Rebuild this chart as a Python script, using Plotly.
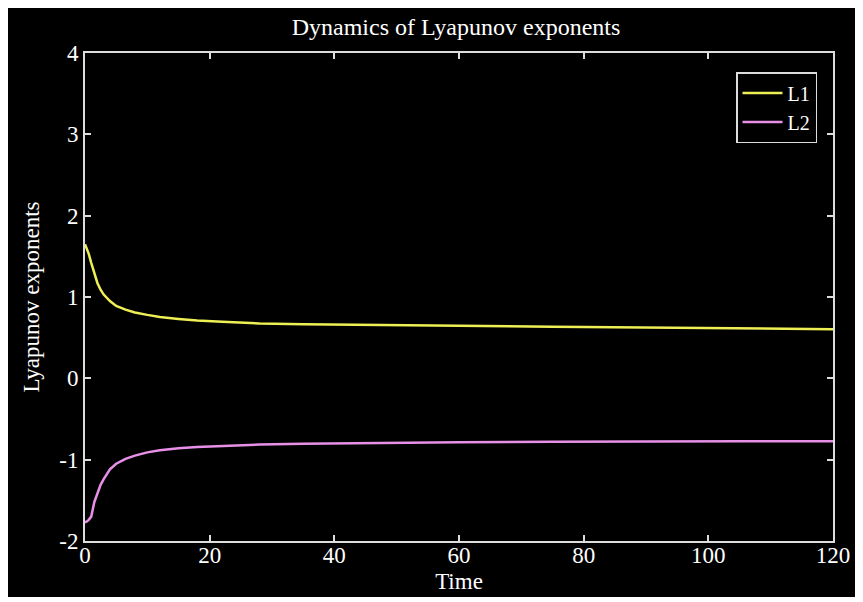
import plotly.graph_objects as go

time = [0, 0.3, 0.6, 1.0, 1.5, 2, 2.5, 3, 4, 5, 6.5, 8, 10, 12, 15, 18, 22, 28, 35, 45, 60, 75, 90, 105, 120]
L1 = [1.65, 1.60, 1.53, 1.42, 1.28, 1.17, 1.09, 1.03, 0.95, 0.89, 0.845, 0.81, 0.78, 0.755, 0.73,
      0.71, 0.695, 0.675, 0.665, 0.655, 0.645, 0.635, 0.625, 0.615, 0.605]
L2 = [-1.77, -1.76, -1.74, -1.70, -1.52, -1.40, -1.31, -1.24, -1.12, -1.05, -0.99, -0.95, -0.91,
      -0.885, -0.86, -0.845, -0.83, -0.815, -0.805, -0.795, -0.785, -0.78, -0.775, -0.775, -0.775]
x_ticks = [0, 20, 40, 60, 80, 100, 120]
x_labels = ["0", "20", "40", "60", "80", "100", "120"]
y_ticks = [-2, -1, 0, 1, 2, 3, 4]
y_labels = ["-2", "-1", "0", "1", "2", "3", "4"]

font = "Liberation Serif"
fig = go.Figure()
fig.add_trace(go.Scatter(x=time, y=L1, mode="lines", name="L1",
                         line=dict(color="#eeee55", width=2.5)))
fig.add_trace(go.Scatter(x=time, y=L2, mode="lines", name="L2",
                         line=dict(color="#e890e8", width=2.5)))

# page body has an 8px margin, which gives the thin white border
W, H = 850, 589
ml, mr, mt, mb = 77, 25, 45, 56
pw, ph = W - ml - mr, H - mt - mb

axis_common = dict(showgrid=False, zeroline=False, showline=True, mirror="ticks",
                   linecolor="#dddddd", linewidth=2, ticks="inside", ticklen=6,
                   tickcolor="#dddddd", tickwidth=1.5, automargin=False,
                   tickfont=dict(family=font, size=23, color="white"))

fig.update_layout(
    width=W, height=H,
    margin=dict(l=ml, r=mr, t=mt, b=mb),
    paper_bgcolor="black", plot_bgcolor="black",
    title=dict(text="Dynamics of Lyapunov exponents", x=448 / W, xanchor="center",
               y=1 - 19 / H, yanchor="middle", yref="container",
               font=dict(family=font, size=24, color="white")),
    xaxis=dict(range=[0, 120], tickvals=x_ticks, ticktext=x_labels, ticklabelstandoff=-8,
               title=dict(text="Time", font=dict(family=font, size=23, color="white"), standoff=6),
               **axis_common),
    yaxis=dict(range=[-2, 4], tickvals=y_ticks, ticktext=y_labels,
               title=dict(text="Lyapunov exponents", font=dict(family=font, size=23, color="white"),
                          standoff=13),
               **axis_common),
    legend=dict(x=(809 - ml) / pw, xanchor="right", y=(H - mb - 64) / ph, yanchor="top",
                bgcolor="black", bordercolor="#dddddd", borderwidth=1.5,
                font=dict(family=font, size=20, color="white"),
                tracegroupgap=0, itemwidth=40),
    showlegend=True,
)

fig.write_html("out.html")
